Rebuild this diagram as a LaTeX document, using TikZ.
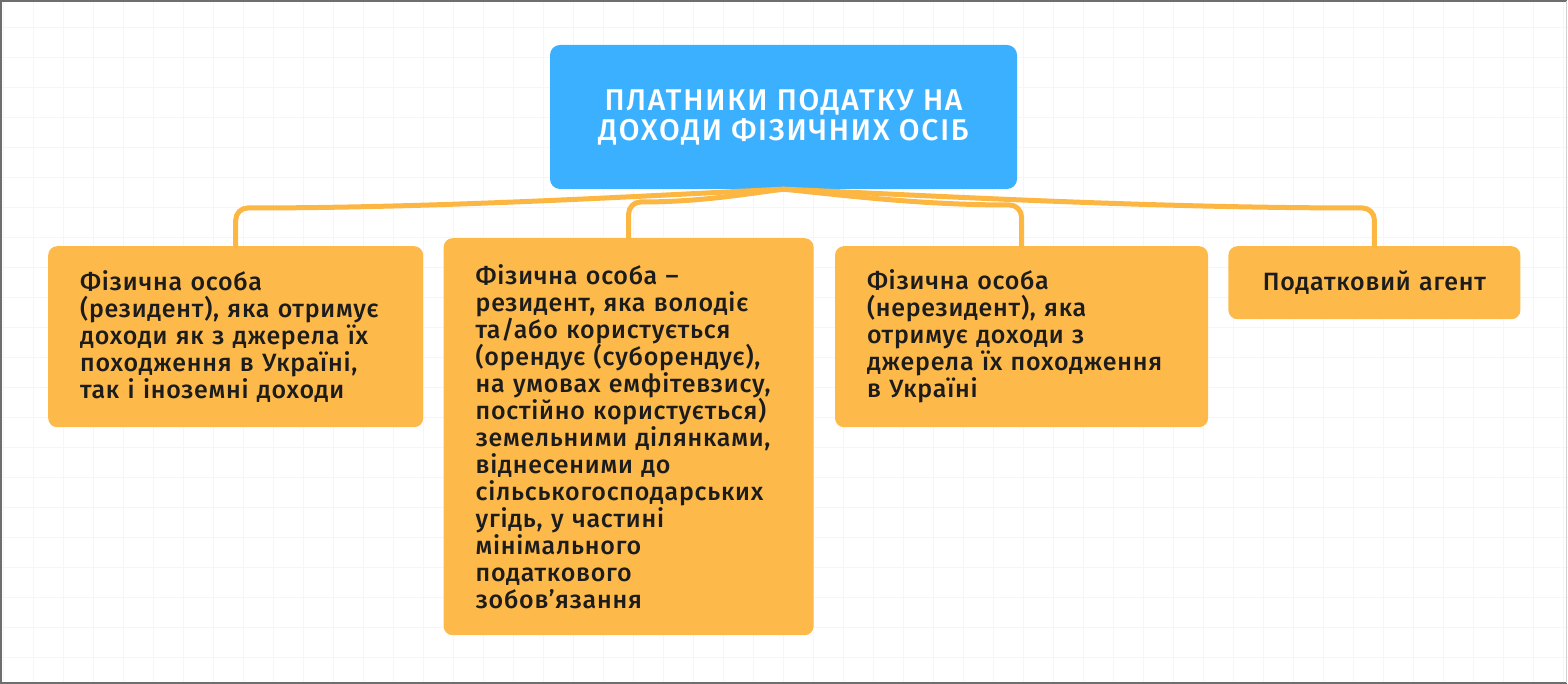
\documentclass[tikz,border=0pt]{standalone}
\usepackage{fontspec}
\setmainfont{Fira Sans Medium}
\newfontfamily\rootfam{Fira Sans Medium}[LetterSpace=6]
\newfontfamily\leaffam{Fira Sans Medium}[LetterSpace=3]
\newcommand\rootfont{\rootfam\fontsize{30}{30}\selectfont}
\newcommand\leaffont{\leaffam\fontsize{25}{27}\selectfont}
\usetikzlibrary{positioning,calc}
\definecolor{ppBlue}{RGB}{59,176,255}
\definecolor{ppOrange}{RGB}{253,186,74}
\definecolor{ppLink}{RGB}{252,182,66}
\definecolor{ppText}{RGB}{28,28,28}
\definecolor{ppGrid}{RGB}{246,246,246}
\definecolor{ppFrame}{RGB}{110,110,110}

\begin{document}
\begin{tikzpicture}[
    x=1pt, y=1pt,
    rootbox/.style={rectangle, rounded corners=10pt, fill=ppBlue, text=white, minimum width=467pt, minimum height=144pt, align=center, font=\rootfont},
    leaf/.style={rectangle, rounded corners=9pt, fill=ppOrange, text=ppText, inner xsep=32pt, inner ysep=0pt, align=left, font=\leaffont},
    link/.style={draw=ppLink, line width=5pt, line cap=round},
    gridline/.style={draw=ppGrid, line width=1pt}
]
  \useasboundingbox (0,0) rectangle (1568,684);
  % background grid
  \begin{scope}[shift={(3,26)}]
    \draw[gridline, step=30pt] (-3,-26) grid (1565,658);
  \end{scope}
  \draw[ppFrame, line width=1.5pt] (1567,1) -- (1,1) -- (1,683) -- (1567,683);
  \draw[ppGrid!70!gray, line width=1pt] (1566,1) -- (1566,683);

  \node[rootbox] (root) at (783.5,567) {ПЛАТНИКИ ПОДАТКУ НА\\ДОХОДИ ФІЗИЧНИХ ОСІБ};

  \node[leaf, anchor=north west, text width=311pt, minimum height=181pt] (b1) at (48,438)
    {Фізична особа\\(резидент), яка отримує\\доходи як з джерела їх\\походження в Україні,\\так і іноземні доходи};
  \node[leaf, right=20pt of b1.north east, anchor=north west, yshift=8pt, text width=306pt, minimum height=397pt] (b2)
    {Фізична особа –\\резидент, яка володіє\\та/або користується\\(орендує (суборендує),\\на умовах емфітевзису,\\постійно користується)\\земельними ділянками,\\віднесеними до\\сільськогосподарських\\угідь, у частині\\мінімального\\податкового\\зобов’язання};
  \node[leaf, right=21pt of b2.north east, anchor=north west, yshift=-8pt, text width=309pt, minimum height=181pt] (b3)
    {Фізична особа\\(нерезидент), яка\\отримує доходи з\\джерела їх походження\\в Україні};
  \node[leaf, right=20pt of b3.north east, anchor=north west, text width=228pt, minimum height=73pt, align=center] (b4)
    {Податковий агент};

  % connectors
  \draw[link] (root.south) .. controls +(-130,-6) and +(200,0) .. ($(b1.north)+(12,38)$)
    arc[start angle=90, end angle=180, radius=12] -- (b1.north);
  \draw[link] (root.south) .. controls +(-40,-5) and +(60,0) .. ($(b2.north)+(12,36)$)
    arc[start angle=90, end angle=180, radius=12] -- (b2.north);
  \draw[link] (root.south) .. controls +(60,-6) and +(-90,0) .. ($(b3.north)+(-12,41)$)
    arc[start angle=90, end angle=0, radius=12] -- (b3.north);
  \draw[link] (root.south) .. controls +(140,-6) and +(-220,0) .. ($(b4.north)+(-12,38)$)
    arc[start angle=90, end angle=0, radius=12] -- (b4.north);
\end{tikzpicture}
\end{document}
